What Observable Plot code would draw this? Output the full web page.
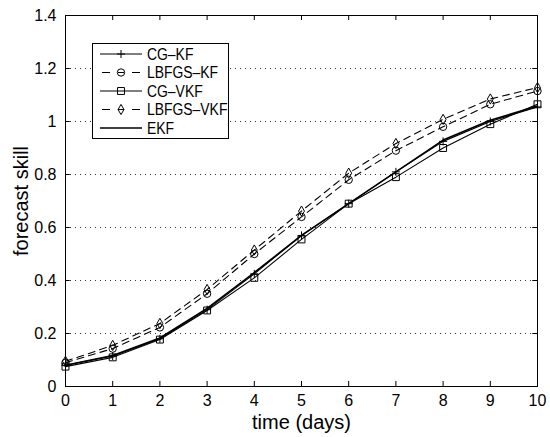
<!DOCTYPE html>
<html>
<head>
<meta charset="utf-8">
<script src="https://cdn.jsdelivr.net/npm/d3@7"></script>
<script src="https://cdn.jsdelivr.net/npm/@observablehq/plot@0.6"></script>
<style>
  html, body { margin: 0; padding: 0; background: #fff; }
  #wrap { position: relative; width: 550px; height: 437px; font-family: "Liberation Sans", Arial, Helvetica, sans-serif; }
  #legend { position: absolute; left: 0; top: 0; pointer-events: none; }
</style>
</head>
<body>
<div id="wrap"></div>
<script>
// ---- data ----
const days = [0, 1, 2, 3, 4, 5, 6, 7, 8, 9, 10];
const seriesNames = ["CG–KF", "LBFGS–KF", "CG–VKF", "LBFGS–VKF", "EKF"];
const cgKF     = [0.080, 0.115, 0.180, 0.290, 0.425, 0.570, 0.690, 0.810, 0.925, 1.000, 1.055];
const lbfgsKF  = [0.090, 0.143, 0.223, 0.350, 0.500, 0.640, 0.780, 0.890, 0.980, 1.065, 1.115];
const cgVKF    = [0.075, 0.110, 0.177, 0.287, 0.410, 0.555, 0.690, 0.790, 0.900, 0.990, 1.065];
const lbfgsVKF = [0.095, 0.155, 0.238, 0.366, 0.515, 0.662, 0.805, 0.917, 1.008, 1.085, 1.128];
const ekf      = [0.080, 0.117, 0.183, 0.295, 0.430, 0.570, 0.690, 0.810, 0.930, 1.005, 1.058];
const xTicks = [0, 1, 2, 3, 4, 5, 6, 7, 8, 9, 10];
const yTicks = [0, 0.2, 0.4, 0.6, 0.8, 1, 1.2, 1.4];
const yGrid = [0.2, 0.4, 0.6, 0.8, 1, 1.2];

// ---- styles per series ----
const styles = [
  {values: cgKF,     dash: null,  symbol: "plus",    r: 2.7},
  {values: lbfgsKF,  dash: "7,5", symbol: "circle",  r: 3.7},
  {values: cgVKF,    dash: null,  symbol: "square",  r: 3.9},
  {values: lbfgsVKF, dash: "7,5", symbol: "diamond", r: 3.1},
  {values: ekf,      dash: null,  symbol: null,      r: 0, width: 1.6}
];

const tables = styles.map((s, i) => days.map((d, j) => ({day: d, value: s.values[j], series: seriesNames[i]})));

const marks = [
  Plot.ruleY(yGrid, {stroke: "#333", strokeDasharray: "1,4", strokeWidth: 1}),
  // inward ticks
  Plot.ruleX(xTicks, {x: d => d, y1: 0, y2: 0.019, stroke: "black"}),
  Plot.ruleX(xTicks, {x: d => d, y1: 1.4, y2: 1.381, stroke: "black"}),
  Plot.ruleY(yTicks, {y: d => d, x1: 0, x2: 0.1, stroke: "black"}),
  Plot.ruleY(yTicks, {y: d => d, x1: 10, x2: 9.9, stroke: "black"}),
];
styles.forEach((s, i) => {
  marks.push(Plot.line(tables[i], {x: "day", y: "value", stroke: "black", strokeWidth: s.width || 1.1, strokeDasharray: s.dash || undefined}));
  if (s.symbol) marks.push(Plot.dot(tables[i], {x: "day", y: "value", symbol: s.symbol, r: s.r, stroke: "black", fill: "none", strokeWidth: 1}));
});
marks.push(
  Plot.frame({stroke: "black", strokeWidth: 1}),
  Plot.axisX({ticks: xTicks, tickSize: 0, tickPadding: 8, fontSize: 16, label: null, tickFormat: d => String(d)}),
  Plot.axisY({ticks: yTicks, tickSize: 0, tickPadding: 9, fontSize: 16, label: null, tickFormat: d => String(d)}),
  Plot.text(["time (days)"], {frameAnchor: "bottom", lineAnchor: "middle", textAnchor: "middle", dy: 36, fontSize: 20, fill: "black"}),
  Plot.text(["forecast skill"], {frameAnchor: "left", lineAnchor: "middle", textAnchor: "middle", dx: -44, rotate: -90, fontSize: 20, fill: "black"})
);

const chart = Plot.plot({
  width: 550,
  height: 437,
  marginLeft: 65,
  marginRight: 13,
  marginTop: 15,
  marginBottom: 51,
  x: {domain: [0, 10]},
  y: {domain: [0, 1.4]},
  style: {fontFamily: '"Liberation Sans", Arial, Helvetica, sans-serif', color: "black", background: "white", overflow: "visible"},
  marks
});
document.getElementById("wrap").appendChild(chart);

// ---- legend overlay ----
const leg = d3.select("#wrap").append("svg").attr("id", "legend").attr("width", 550).attr("height", 437);
leg.append("rect").attr("x", 92.5).attr("y", 43.5).attr("width", 136).attr("height", 95)
  .attr("fill", "white").attr("stroke", "black").attr("stroke-width", 1);
const symMap = {plus: d3.symbolPlus, circle: d3.symbolCircle, square: d3.symbolSquare, diamond: d3.symbolDiamond};
styles.forEach((s, i) => {
  const y = 54 + i * 18.5;
  const g = leg.append("g").attr("transform", `translate(0,${y})`);
  g.append("line").attr("x1", 100).attr("x2", 142).attr("y1", 0).attr("y2", 0)
    .attr("stroke", "black").attr("stroke-width", s.width || 1.1)
    .attr("stroke-dasharray", s.dash ? "8,8,6,8,8,100" : null)
    .attr("stroke-dashoffset", s.dash ? -2 : null);
  if (s.symbol) {
    g.append("path").attr("transform", "translate(121,0)")
      .attr("d", d3.symbol(symMap[s.symbol], Math.PI * s.r * s.r)())
      .attr("fill", "none").attr("stroke", "black");
  }
  g.append("text").attr("transform", "translate(147,0) scale(0.87,1)").attr("dy", "0.36em")
    .attr("font-size", 16).attr("font-family", '"Liberation Sans", Arial, sans-serif')
    .text(seriesNames[i]);
});
</script>
</body>
</html>
